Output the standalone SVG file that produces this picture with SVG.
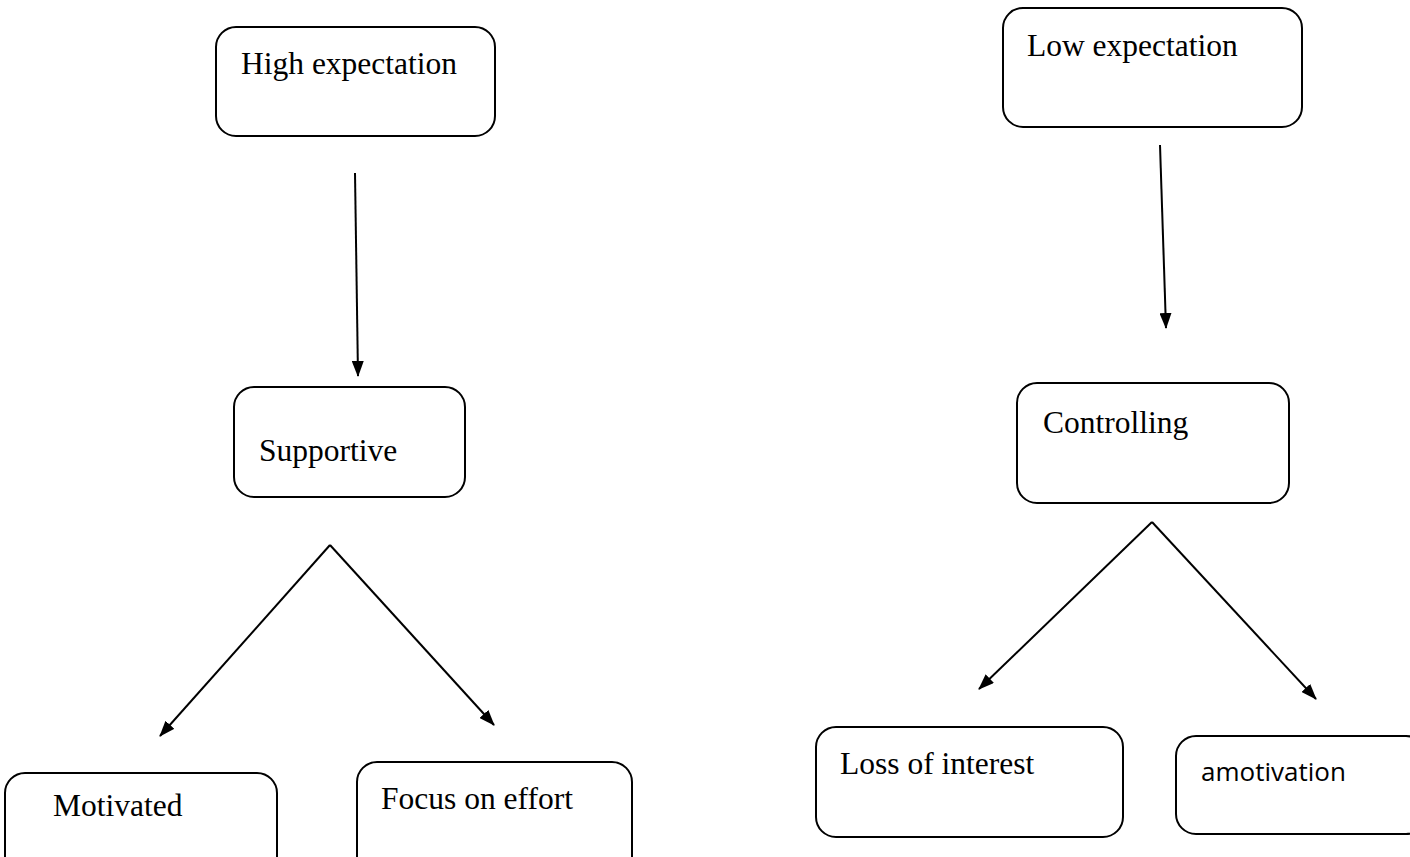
<svg xmlns="http://www.w3.org/2000/svg" width="1410" height="857" viewBox="0 0 1410 857">
<defs>
<marker id="ah" markerWidth="16" markerHeight="12" refX="15" refY="6" orient="auto" markerUnits="userSpaceOnUse" viewBox="0 0 16 12">
<path d="M0,0 L16,6 L0,12 z" fill="#000"/>
</marker>
<style>
.box{fill:#fff;stroke:#000;stroke-width:2}
.t{font-family:"Liberation Serif","Times New Roman",serif;font-size:31.5px;fill:#000}
.s{font-family:"Open Sans",sans-serif;font-size:26px;fill:#000}
.c{stroke:#000;stroke-width:2;fill:none;marker-end:url(#ah)}
</style>
</defs>
<rect width="1410" height="857" fill="#fff"/>
<g id="connectors">
<line class="c" x1="355" y1="173" x2="358" y2="376"/>
<line class="c" x1="1160" y1="145" x2="1166" y2="328"/>
<line class="c" x1="330" y1="545" x2="160" y2="736"/>
<line class="c" x1="330" y1="545" x2="494" y2="725"/>
<line class="c" x1="1152" y1="522" x2="979" y2="689"/>
<line class="c" x1="1152" y1="522" x2="1316" y2="699"/>
</g>
<g id="high"><rect class="box" x="216" y="27" width="279" height="109" rx="20"/><text class="t" x="241" y="74">High expectation</text></g>
<g id="low"><rect class="box" x="1003" y="8" width="299" height="119" rx="20"/><text class="t" x="1027" y="56">Low expectation</text></g>
<g id="supportive"><rect class="box" x="234" y="387" width="231" height="110" rx="20"/><text class="t" x="259" y="461">Supportive</text></g>
<g id="controlling"><rect class="box" x="1017" y="383" width="272" height="120" rx="20"/><text class="t" x="1043" y="433">Controlling</text></g>
<g id="motivated"><rect class="box" x="5" y="773" width="272" height="110" rx="20"/><text class="t" x="53" y="816">Motivated</text></g>
<g id="focus"><rect class="box" x="357" y="762" width="275" height="120" rx="20"/><text class="t" x="381" y="809">Focus on effort</text></g>
<g id="loss"><rect class="box" x="816" y="727" width="307" height="110" rx="20"/><text class="t" x="840" y="774">Loss of interest</text></g>
<g id="amotivation"><rect class="box" x="1176" y="736" width="250" height="98" rx="20"/><text class="s" x="1201" y="781">amotivation</text></g>
</svg>
